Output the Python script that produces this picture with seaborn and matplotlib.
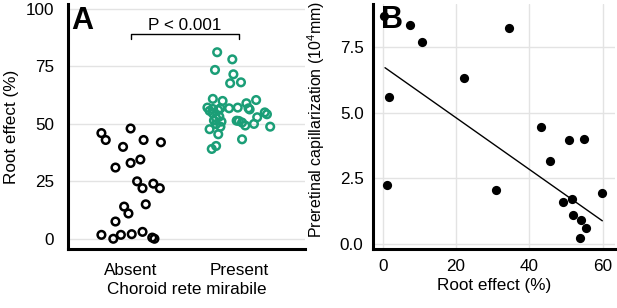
import numpy as np
import pandas as pd
import matplotlib
matplotlib.use("Agg")
import matplotlib.pyplot as plt
import seaborn as sns

# Panel A: root effect by group (value, horizontal jitter)
absent_val = [1.7, 43, 46, 48, 40, 43, 42, 31, 33, 34.5, 25, 22, 24, 22,
              15, 14, 11, 7.5, 0, 1.7, 2, 3, 0.5, 0]
absent_jit = [-0.27, -0.23, -0.27, 0.0, -0.07, 0.12, 0.28, -0.14, 0.0, 0.09,
              0.06, 0.11, 0.21, 0.27, 0.14, -0.06, -0.02, -0.14, -0.16, -0.09,
              0.01, 0.11, 0.20, 0.22]
present_val = [81.2, 78.1, 73.5, 71.6, 67.7, 68.1, 60.9, 60, 57.1, 55.7,
               54.6, 56, 53.2, 52.5, 56.8, 56.8, 57.1, 59, 56.8, 56.3, 60.4,
               55, 54.2, 52.9, 51.4, 51.3, 50.6, 49.3, 50, 48.8, 49.9, 48.8,
               47.7, 45.5, 43.3, 40.4, 39.1, 51.5, 51, 56.5]
present_jit = [-0.20, -0.06, -0.22, -0.05, -0.08, 0.02, -0.24, -0.15, -0.29,
               -0.27, -0.24, -0.19, -0.18, -0.21, -0.17, -0.09, -0.01, 0.07,
               0.09, 0.10, 0.16, 0.24, 0.26, 0.17, -0.02, 0.0, 0.03, 0.06,
               0.14, 0.29, -0.21, -0.17, -0.27, -0.19, 0.03, -0.21, -0.25,
               -0.23, -0.16, -0.24]
groups = ["Absent", "Present"]

# Panel B: root effect vs preretinal capillarization
root_effect = [0.35, 7.3, 10.8, 34.5, 22.1, 1.8, 43.1, 50.9, 55.0, 45.6, 1.1,
               31.0, 59.9, 49.1, 51.5, 52.0, 54.0, 55.5, 53.9]
capillar = [8.7, 8.34, 7.71, 8.23, 6.34, 5.62, 4.45, 3.96, 4.0, 3.18, 2.26,
            2.05, 1.95, 1.58, 1.71, 1.11, 0.92, 0.62, 0.23]
# fitted line as drawn in the figure (end points)
fit_x = [0.6, 59.9]
fit_y = [6.72, 0.88]

df_a = pd.DataFrame({
    "group": ["Absent"] * len(absent_val) + ["Present"] * len(present_val),
    "root": absent_val + present_val,
})
df_a["x"] = df_a["group"].map({g: i for i, g in enumerate(groups)}) + \
    np.array(absent_jit + present_jit)
df_b = pd.DataFrame({"root": root_effect, "cap": capillar})

sns.set_style("white")
plt.rcParams["font.family"] = ["Liberation Sans", "DejaVu Sans"]
plt.rcParams["font.size"] = 12.3
plt.rcParams["mathtext.fontset"] = "custom"
plt.rcParams["mathtext.rm"] = "Liberation Sans"
plt.rcParams["mathtext.it"] = "Liberation Sans:italic"
plt.rcParams["mathtext.default"] = "rm"
for k in ("text.color", "axes.labelcolor", "xtick.color", "ytick.color"):
    plt.rcParams[k] = "black"

green = "#1b9e77"
grid_c = "#e3e3e3"
fs = 12.3

fig = plt.figure(figsize=(6.17, 3.08), dpi=100)
ax1 = fig.add_axes([0.110, 0.192, 0.384, 0.795])
ax2 = fig.add_axes([0.605, 0.192, 0.392, 0.795])

# ---- panel A
sns.scatterplot(data=df_a, x="x", y="root", hue="group",
                palette={"Absent": "black", "Present": green},
                ax=ax1, s=30, marker="o", legend=False, linewidth=1.8)
ax1.collections[0].set_facecolor("none")
ax1.collections[0].set_edgecolors(
    ["black" if g == "Absent" else green for g in df_a["group"]])
ax1.set_xlim(-0.58, 1.61)
ax1.set_ylim(-4.4, 102.2)
ax1.set_xticks(range(len(groups)))
ax1.set_xticklabels(groups)
ax1.set_yticks([0, 25, 50, 75, 100])
ax1.yaxis.grid(True, color=grid_c, linewidth=1)
ax1.set_axisbelow(True)
ax1.set_xlabel("Choroid rete mirabile", fontsize=fs, labelpad=3)
ax1.set_ylabel("Root effect (%)", fontsize=fs)
ax1.yaxis.set_label_coords(-0.205, 0.5)
ax1.tick_params(axis="y", length=0, pad=10)
ax1.tick_params(axis="x", length=0, pad=10)
ax1.text(0.015, 0.99, "A", transform=ax1.transAxes, fontsize=22,
         fontweight="bold", ha="left", va="top")
# significance bracket
ax1.plot([0, 0, 1, 1], [87, 89.3, 89.3, 87], color="black", lw=1,
         clip_on=False)
ax1.text(0.5, 90.8, "P < 0.001", ha="center", va="baseline", fontsize=fs)

# ---- panel B
sns.scatterplot(data=df_b, x="root", y="cap", ax=ax2, s=44, color="black",
                linewidth=0)
sns.lineplot(x=fit_x, y=fit_y, ax=ax2, color="black", lw=1)
ax2.set_xlim(-2.6, 63.4)
ax2.set_ylim(-0.19, 9.15)
ax2.set_xticks([0, 20, 40, 60])
ax2.set_yticks([0, 2.5, 5.0, 7.5])
ax2.set_yticklabels(["0.0", "2.5", "5.0", "7.5"])
ax2.grid(True, color=grid_c, linewidth=1)
ax2.set_axisbelow(True)
ax2.set_xlabel("Root effect (%)", fontsize=fs, labelpad=3)
ax2.set_ylabel("Preretinal capillarization (10$^{4}$mm)", fontsize=11.5)
ax2.yaxis.set_label_coords(-0.19, 0.527)
ax2.tick_params(axis="y", length=0, pad=7)
ax2.tick_params(axis="x", length=0, pad=7)
ax2.text(0.03, 0.995, "B", transform=ax2.transAxes, fontsize=22,
         fontweight="bold", ha="left", va="top")

for ax in (ax1, ax2):
    sns.despine(ax=ax)
    for side in ("left", "bottom"):
        ax.spines[side].set_color("black")
        ax.spines[side].set_linewidth(2.2)
    ax.tick_params(labelsize=fs)

fig.savefig("out.png", dpi=100)
